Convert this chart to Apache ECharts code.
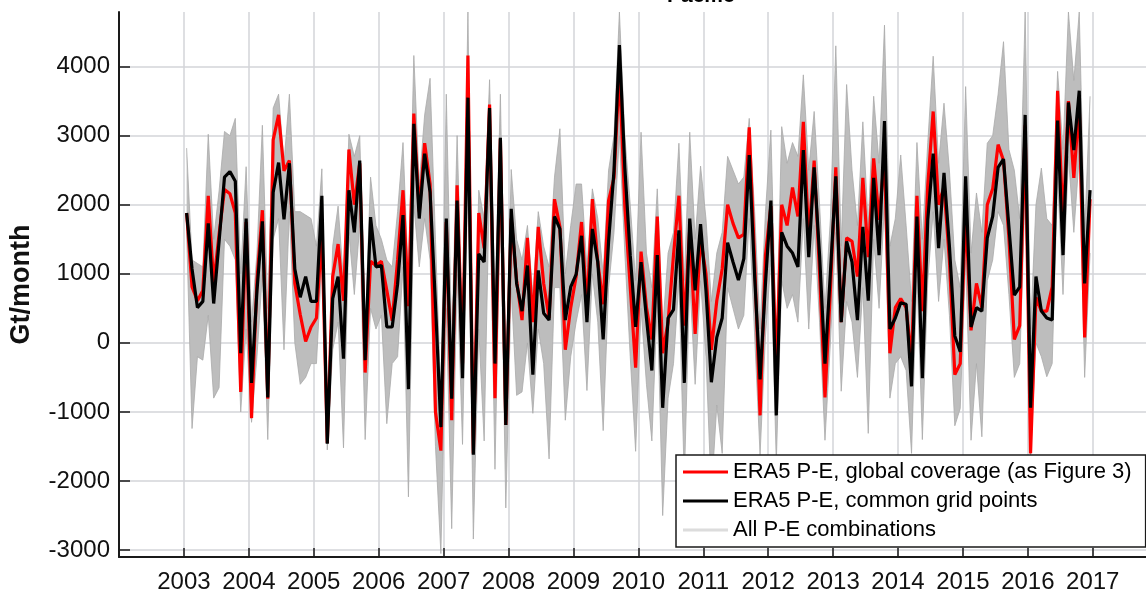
<!DOCTYPE html>
<html>
<head>
<meta charset="utf-8">
<title>Pacific P-E</title>
<script src="https://cdn.jsdelivr.net/npm/echarts/dist/echarts.min.js"></script>
<style>
  html, body { margin: 0; padding: 0; background: #fff; }
  #chartmain { width: 1146px; height: 595px; }
</style>
</head>
<body>
<div id="chartmain"></div>
<script>
// monthly values, Jan 2003 .. Dec 2016 (Gt/month), one row per year
var startYear = 2003;

var era5Global = [
    1880, 810, 610, 760, 2130, 860, 1570, 2220, 2160, 1880, -710, 1750,
    -1090, 900, 1920, -810, 2940, 3300, 2490, 2640, 860, 410, 20, 230,
    360, 1600, -1450, 960, 1430, 610, 2800, 2000, 2600, -430, 1180, 1120,
    1180, 760, 320, 1200, 2210, 530, 3320, 1900, 2890, 2300, -1000, -1560,
    1750, -1120, 2280, -300, 4160, -1600, 1880, 1370, 3450, -800, 2950, -1190,
    1800, 900, 330, 1520, 300, 1680, 860, 360, 2080, 1680, -100, 510,
    960, 1750, 510, 2080, 1170, 560, 2060, 2390, 3960, 1980, 810, -360,
    1320, 510, 50, 1830, -150, 300, 1270, 2130, 250, 1650, 130, 1520,
    1000, -100, 610, 1070, 2000, 1730, 1520, 1570, 3120, 1170, -1050, 1270,
    1980, -360, 2000, 1700, 2250, 1830, 3200, 1520, 2640, 1020, -790, 760,
    2540, 300, 1520, 1470, 960, 2390, 1240, 2670, 1780, 2700, -150, 510,
    640, 510, -250, 2130, 460, 2280, 3350, 2000, 2260, 1200, -460, -300,
    1900, 180, 860, 510, 2000, 2230, 2870, 2640, 1520, 50, 250, 3150,
    -1600, 660, 460, 460, 810, 3650, 1730, 3500, 2390, 3450, 80, 2080
];

var era5Common = [
    1880, 1070, 510, 600, 1730, 570, 1470, 2400, 2480, 2340, -150, 1800,
    -580, 750, 1760, -790, 2180, 2610, 1790, 2600, 1070, 660, 960, 600,
    600, 2130, -1460, 640, 960, -230, 2210, 1600, 2640, -250, 1820, 1100,
    1120, 230, 230, 850, 1850, -670, 3170, 1800, 2740, 2180, 560, -1220,
    1800, -810, 2060, -510, 3550, -1620, 1290, 1170, 3400, -300, 2970, -1190,
    1940, 860, 460, 1120, -460, 1050, 430, 330, 1830, 1650, 330, 810,
    990, 1550, 300, 1650, 1170, 50, 1470, 2490, 4310, 2540, 1270, 230,
    1170, 360, -400, 1270, -940, 360, 480, 1630, -580, 1800, 760, 1720,
    760, -570, 80, 360, 1450, 1170, 910, 1220, 2720, 960, -530, 860,
    2060, -1050, 1600, 1400, 1300, 1100, 2790, 1240, 2540, 1270, -300, 1010,
    2410, 300, 1470, 1170, 330, 1680, 610, 2390, 1270, 3210, 200, 360,
    580, 560, -630, 1830, -510, 1780, 2740, 1370, 2460, 1400, 100, -130,
    2410, 230, 510, 460, 1520, 1830, 2540, 2660, 1680, 690, 810, 3300,
    -940, 960, 460, 360, 330, 3220, 1270, 3480, 2790, 3650, 860, 2210
];

// spread of all P-E combinations: highest and lowest member each month
var comboHigh = [
    2820, 1200, 1150, 1100, 3020, 1500, 2200, 3060, 3000, 3250, 1000, 2550,
    300, 1300, 3150, 500, 3400, 3600, 2600, 3600, 1900, 1900, 1850, 1800,
    1400, 2520, -1200, 1400, 1980, 900, 3020, 2700, 3000, 200, 2400, 1700,
    1500, 1200, 1100, 1900, 2900, 900, 4160, 2300, 3300, 3830, 1500, -800,
    3600, 0, 3000, 200, 4790, -1000, 2210, 1800, 3810, 600, 3600, -600,
    2510, 1500, 1200, 1700, 700, 1900, 1400, 1100, 2400, 3100, 1000, 1700,
    2300, 2300, 1100, 2230, 1800, 1000, 2500, 3000, 4790, 3000, 2000, 900,
    3050, 1300, 800, 2230, 200, 1300, 1600, 2890, 900, 3050, 1500, 2560,
    1800, 600, 1300, 1600, 2700, 2500, 2300, 2400, 3250, 1900, 200, 1900,
    3080, 0, 3130, 2600, 2900, 2700, 3880, 2500, 3350, 2000, 500, 1800,
    4300, 1400, 3740, 2500, 1700, 3200, 1700, 3570, 2600, 4600, 1400, 1800,
    2720, 1700, 600, 2900, 1500, 2900, 4150, 2600, 3470, 2500, 1200, 800,
    3710, 1300, 2170, 1600, 2890, 3000, 3600, 4360, 2800, 2500, 1800, 4790,
    200, 2000, 2530, 1800, 1700, 3930, 2800, 4790, 3800, 4790, 1600, 3570
];

var comboLow = [
    1600, -1240, -200, -250, 400, -800, -650, 1500, 1400, 1200, -1000, 200,
    -1150, -200, 1000, -1400, 1500, 1800, -100, 1900, 0, -600, -500, -300,
    -300, 1200, -1550, -100, 300, -1520, 1600, 700, 1700, -1400, 500, 200,
    400, -1170, -300, -200, 1100, -2230, 2000, 1100, 1800, 1200, -1500, -3050,
    500, -2690, 1000, -1470, 2500, -2840, 200, -1420, 2400, -1830, 2000, -2390,
    800, -760, -710, 0, -1020, 200, -300, -1680, 800, 800, -1120, -200,
    300, 700, -690, 1000, 300, -1270, 800, 1600, 3000, 1300, -200, -1570,
    500, -600, -1420, 600, -2500, -800, -300, 900, -2000, 900, -600, 900,
    -200, -2200, -900, -1600, 800, 500, 200, 400, 1800, 100, -1620, 100,
    1200, -1730, 900, 500, 700, 300, 1800, 200, 1700, 300, -1410, 0,
    1600, -700, 600, 300, -500, 800, -1310, 1500, 500, 2000, -800, -300,
    -200, -400, -1600, 1000, -1400, 900, 1900, 600, 1500, 400, -1200, -950,
    1200, -1410, -300, -1360, 900, 1200, 1900, 1700, 700, -500, -300, 2200,
    -1650, 0, -200, -490, -300, 2400, 700, 2700, 1600, 2700, -500, 1300
];

var yearTicks = [2003, 2004, 2005, 2006, 2007, 2008, 2009, 2010, 2011, 2012, 2013, 2014, 2015, 2016, 2017];

var nameGlobal = 'ERA5 P-E, global coverage (as Figure 3)';
var nameCommon = 'ERA5 P-E, common grid points';
var nameCombo = 'All P-E combinations';

// decimal year in the middle of each month
function monthTime(i) {
    return startYear + (i + 0.5) / 12;
}
function pairs(arr) {
    return arr.map(function (v, i) { return [monthTime(i), v]; });
}

var bandData = comboHigh.map(function (v, i) { return [monthTime(i), v, comboLow[i]]; });

var font = 'Liberation Sans, Arial, Helvetica, sans-serif';
var textColor = '#111';
var gridColor = '#d3d5d8';
var comboFill = '#bdbdbd';
var comboLine = '#a9a9a9';

// gray band between the lowest and highest combination, drawn once
function renderBand(params, api) {
    if (params.dataIndex !== 0) return null;
    var pts = [];
    var i;
    for (i = 0; i < comboHigh.length; i++) {
        pts.push(api.coord([monthTime(i), comboHigh[i]]));
    }
    for (i = comboLow.length - 1; i >= 0; i--) {
        pts.push(api.coord([monthTime(i), comboLow[i]]));
    }
    return {
        type: 'polygon',
        shape: { points: pts },
        style: { fill: comboFill, stroke: null }
    };
}

var myChart = echarts.init(document.getElementById('chartmain'), null, { renderer: 'canvas' });

var option = {
    animation: false,
    backgroundColor: '#fff',
    textStyle: { fontFamily: font },
    title: {
        text: 'Pacific',
        left: 667,
        top: -14,
        padding: 0,
        textStyle: { fontFamily: font, fontSize: 21, fontWeight: 'bold', color: '#000' }
    },
    grid: { left: 118, right: 0, top: 12, bottom: 38, containLabel: false },
    legend: {
        orient: 'vertical',
        left: 676,
        top: 455,
        padding: [6, 14, 6, 7],
        itemGap: 7,
        itemWidth: 45,
        itemHeight: 3,
        selectedMode: false,
        backgroundColor: '#fff',
        borderColor: '#1a1a1a',
        borderWidth: 1.5,
        borderRadius: 0,
        textStyle: { fontFamily: font, fontSize: 22, lineHeight: 22, color: '#000' },
        data: [
            { name: nameGlobal, icon: 'rect', itemStyle: { color: '#ff0000' } },
            { name: nameCommon, icon: 'rect', itemStyle: { color: '#000000' } },
            { name: nameCombo, icon: 'rect', itemStyle: { color: '#dcdcdc' } }
        ]
    },
    xAxis: {
        type: 'value',
        min: 2002,
        max: 2017.82,
        interval: 1,
        axisLine: { show: true, onZero: false, lineStyle: { color: '#1a1a1a', width: 2 } },
        axisTick: { show: true, inside: true, length: 9, lineStyle: { color: '#1a1a1a', width: 1.5 } },
        axisLabel: {
            showMinLabel: false,
            showMaxLabel: false,
            margin: 13,
            fontFamily: font,
            fontSize: 24,
            color: textColor,
            formatter: function (v) { return yearTicks.indexOf(v) >= 0 ? String(v) : ''; }
        },
        splitLine: { show: true, showMinLine: false, showMaxLine: false, lineStyle: { color: gridColor, width: 1.5 } }
    },
    yAxis: {
        type: 'value',
        min: -3100,
        max: 4790,
        splitNumber: 8,
        name: 'Gt/month',
        nameLocation: 'middle',
        nameGap: 84,
        nameTextStyle: { fontFamily: font, fontSize: 27, fontWeight: 'bold', color: textColor },
        axisLine: { show: true, onZero: false, lineStyle: { color: '#1a1a1a', width: 2 } },
        axisTick: { show: true, inside: true, length: 11, lineStyle: { color: '#1a1a1a', width: 1.5 } },
        axisLabel: {
            showMinLabel: false,
            showMaxLabel: false,
            margin: 9,
            fontFamily: font,
            fontSize: 24,
            color: textColor,
            formatter: function (v) { return String(v); }
        },
        splitLine: { show: true, showMinLine: false, showMaxLine: false, lineStyle: { color: gridColor, width: 1.5 } }
    },
    series: [
        {
            name: 'comboBand',
            type: 'custom',
            silent: true,
            clip: true,
            z: 1,
            renderItem: renderBand,
            encode: { x: 0, y: [1, 2] },
            data: bandData
        },
        {
            name: nameCombo,
            type: 'line',
            symbol: 'none',
            silent: true,
            z: 2,
            lineStyle: { color: comboLine, width: 0.8 },
            itemStyle: { color: '#dcdcdc' },
            data: pairs(comboHigh)
        },
        {
            name: 'comboLow',
            type: 'line',
            symbol: 'none',
            silent: true,
            z: 2,
            lineStyle: { color: comboLine, width: 0.8 },
            data: pairs(comboLow)
        },
        {
            name: nameGlobal,
            type: 'line',
            symbol: 'none',
            z: 3,
            lineStyle: { color: '#ff0000', width: 3.2 },
            itemStyle: { color: '#ff0000' },
            data: pairs(era5Global)
        },
        {
            name: nameCommon,
            type: 'line',
            symbol: 'none',
            z: 4,
            lineStyle: { color: '#000000', width: 3.2 },
            itemStyle: { color: '#000000' },
            data: pairs(era5Common)
        }
    ]
};

myChart.setOption(option);
</script>
</body>
</html>
